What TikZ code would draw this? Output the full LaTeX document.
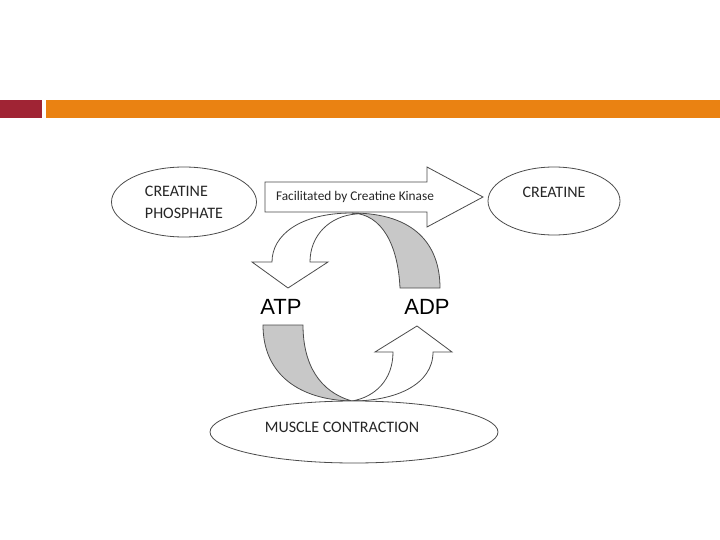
\documentclass[tikz,border=0pt]{standalone}
\usepackage{fontspec}
\setmainfont{Carlito}
\newfontfamily\arialfont{Liberation Sans}
\usetikzlibrary{shapes.geometric}
\definecolor{barred}{RGB}{160,36,52}
\definecolor{barorange}{RGB}{234,130,18}
\definecolor{edge}{RGB}{75,75,75}
\definecolor{bandgray}{RGB}{200,200,200}

\begin{document}
\begin{tikzpicture}[x=1pt, y=-1pt,
  oval/.style={draw=edge, ellipse, fill=white, line width=0.8pt, inner sep=0pt},
  caps/.style={font=\fontsize{16}{22}\selectfont, text=black!85, align=left},
  small/.style={font=\fontsize{13.3}{16}\selectfont, text=black!85},
  big/.style={font=\arialfont\fontsize{22}{26}\selectfont},
  shell/.style={draw=edge, fill=white, line width=0.8pt, line join=miter},
  band/.style={draw=edge, fill=bandgray, line width=0.8pt}]

  \useasboundingbox (0,0) rectangle (720,540);
  \fill[barred]    (0,100)  rectangle (42,118);
  \fill[barorange] (46,100) rectangle (720,118);

  \draw[shell] (352,213) .. controls (300,213) and (272,235) .. (272,262)
    -- (252,262) -- (288,288) -- (328,262) -- (310,262)
    .. controls (310,235) and (330,216) .. (356,214) -- cycle;
  \draw[band] (352,213) .. controls (415,213) and (440,245) .. (440,288)
    -- (400,288) .. controls (398,245) and (382,214) .. (352,213) -- cycle;

  \draw[shell] (265,182) -- (427,182) -- (427,167) -- (483,197)
    -- (427,227) -- (427,212) -- (265,212) -- cycle;
  \node[small] (kinase) at (355,197) {Facilitated by Creatine Kinase};

  \draw[band] (263,325) .. controls (263,375) and (300,400) .. (352,401)
    .. controls (320,392) and (303,365) .. (303,325) -- cycle;
  \draw[shell] (352,401) .. controls (395,401) and (433,385) .. (433,352)
    -- (452,352) -- (417,326) -- (375,352) -- (393,352)
    .. controls (393,380) and (375,397) .. (352,401) -- cycle;

  \node[oval, minimum width=145pt, minimum height=70pt] (phos) at (184,202) {};
  \node[caps] (phostxt) at (phos.center) {CREATINE\\PHOSPHATE};
  \node[oval, minimum width=132pt, minimum height=68pt] (creat) at (554,201) {};
  \node[caps] (creattxt) at ([yshift=9pt]creat.center) {CREATINE};
  \node[oval, minimum width=288pt, minimum height=62pt] (muscle) at (354,432) {};
  \node[caps] (muscletxt) at ([shift={(-12pt,5pt)}]muscle.center) {MUSCLE CONTRACTION};

  \node[big] (atp) at (281,307) {ATP};
  \node[big] (adp) at (427,307) {ADP};
\end{tikzpicture}
\end{document}
